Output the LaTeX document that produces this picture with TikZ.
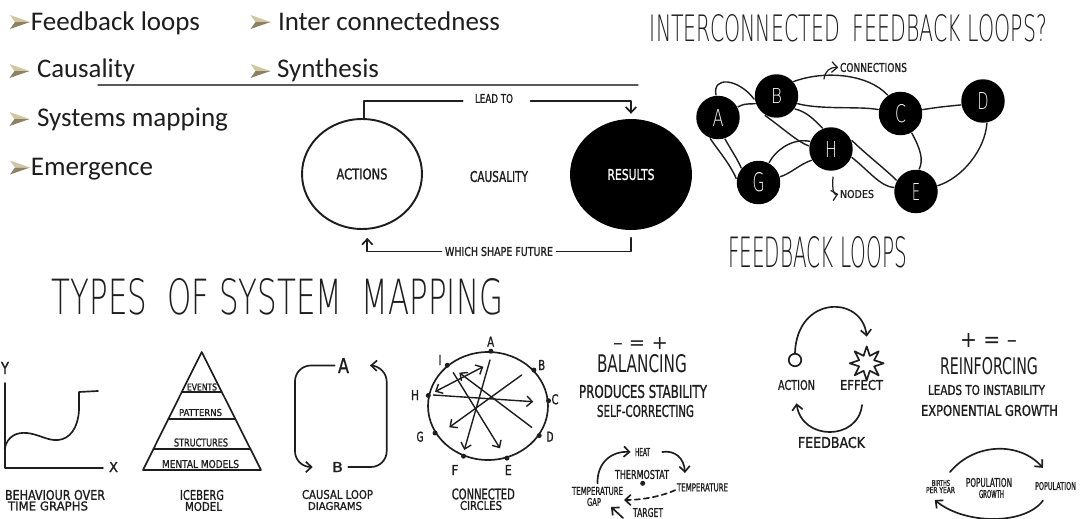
\documentclass[tikz,border=0pt]{standalone}
\usepackage{fontspec}
\setmainfont{DejaVu Sans}
\newfontfamily\bulf{Carlito}
\newfontfamily\handf{DejaVu Sans}[FakeBold=1.3]
\newfontfamily\medf{DejaVu Sans}
\newfontfamily\thinf{DejaVuSans-ExtraLight.ttf}
\usetikzlibrary{arrows.meta,shapes.geometric}
\newlength\pxu \setlength\pxu{0.02cm}
\newcommand\hw[3]{\resizebox{#1\pxu}{#2\pxu}{\handf #3}}
\newcommand\mw[3]{\resizebox{#1\pxu}{#2\pxu}{\medf #3}}
\newcommand\tw[3]{\resizebox{#1\pxu}{#2\pxu}{\thinf #3}}
\newcommand\bw[2]{\resizebox{#1\pxu}{!}{\bulf #2}}
\definecolor{bullight}{HTML}{CFC6A4}
\definecolor{bulldark}{HTML}{8C8160}
\definecolor{ink}{HTML}{1E1E1E}
\newcommand\bul[2]{%
  \fill[bullight] (#1-10,#2-7) -- (#1+10,#2) -- (#1-5,#2) -- cycle;
  \fill[bulldark] (#1-10,#2+7) -- (#1+10,#2) -- (#1-5,#2) -- cycle;}
\begin{document}
\begin{tikzpicture}[x=0.02cm,y=-0.02cm, line width=0.95pt, line cap=round, line join=round,
  color=ink,
  lbl/.style={inner sep=0pt, outer sep=0pt},
  arr/.style={-{Straight Barb[length=3.2pt,width=6pt]}},
  netnode/.style={circle, fill=black, minimum size=0.87cm, inner sep=0pt, text=white},
  edge/.style={line width=0.8pt},
  dot/.style={circle, fill=ink, minimum size=0.1cm, inner sep=0pt},
]
\fill[white] (0,0) rectangle (1080,518);
\useasboundingbox (0,0) rectangle (1080,518);

% ---------------- bullets ----------------
\bul{20}{22}
\node[lbl, anchor=base west] (b1) at (31,30) {\bw{169}{Feedback loops}};
\bul{260.5}{22}
\node[lbl, anchor=base west] (b2) at (278,30) {\bw{222}{Inter connectedness}};
\bul{19.5}{71}
\node[lbl, anchor=base west] (b3) at (37,77.5) {\bw{98}{Causality}};
\bul{260.5}{71}
\node[lbl, anchor=base west] (b4) at (277,77.5) {\bw{102}{Synthesis}};
\bul{19.5}{119}
\node[lbl, anchor=base west] (b5) at (37,126) {\bw{191}{Systems mapping}};
\bul{20}{167.5}
\node[lbl, anchor=base west] (b6) at (31,175.5) {\bw{122}{Emergence}};
\coordinate (sepL) at (98,85);
\coordinate (sepR) at (638,85);
\draw[black!65, line width=0.6pt] (sepL) -- (sepR);

% ---------------- causality ----------------
\node[ellipse, draw, line width=1.1pt, minimum width=2.4cm, minimum height=2.2cm, inner sep=0pt] (act) at (362,174) {\hw{51}{11}{ACTIONS}};
\node[ellipse, fill=black, minimum width=2.44cm, minimum height=2.22cm, inner sep=0pt, text=white] (res) at (631,174.5) {\hw{47}{11}{RESULTS}};
\node[lbl] (caus) at (499,176.5) {\hw{58}{11}{CAUSALITY}};
\node[lbl] (lead) at (494,98.5) {\hw{38}{9}{LEAD TO}};
\node[lbl] (wsf) at (499,251.5) {\hw{108}{9}{WHICH SHAPE FUTURE}};
\draw (act.88) |- ([xshift=-7pt,yshift=-1.5pt]lead.west);
\draw[arr] ([xshift=10pt,yshift=-1.5pt]lead.east) -| ([yshift=2.5pt]res.north);
\draw ([yshift=-4pt]res.south) |- ([xshift=2pt]wsf.east);
\draw[arr] ([xshift=-2pt]wsf.west) -| ([xshift=3pt,yshift=-4.5pt]act.south);

% ---------------- interconnected feedback loops ----------------
\node[lbl] (t1) at (848.5,28.5) {\tw{397}{27}{INTERCONNECTED\ \ FEEDBACK LOOPS?}};
\node[netnode] (nA) at (718,117.5) {\tw{11}{17}{A}};
\node[netnode] (nB) at (776.5,96) {\tw{11}{15}{B}};
\node[netnode] (nC) at (900.5,113.5) {\tw{11}{18}{C}};
\node[netnode] (nD) at (983,101) {\tw{11}{17}{D}};
\node[netnode] (nH) at (831,149) {\tw{12}{16}{H}};
\node[netnode] (nG) at (758.5,182.5) {\tw{12}{19}{G}};
\node[netnode] (nE) at (916,191.5) {\tw{8}{17}{E}};
\draw[edge] (nA.95) .. controls (712,76) and (738,78) .. (nB.188);
\draw[edge] (nA.28) .. controls (744,104) .. (nB.200);
\draw[edge] (nB.40) .. controls (825,70) and (868,74) .. (nC.125);
\draw[edge] (nB.-20) .. controls (822,110) and (860,106) .. (nC.170);
\draw[edge] (nC.10) .. controls (940,107) .. (nD.190);
\draw[edge] (nC.-60) .. controls (920,148) and (924,160) .. (nE.82);
\draw[edge] (nD.-80) .. controls (985,150) and (962,178) .. (nE.15);
\draw[edge] (nB.-120) .. controls (785,130) and (798,142) .. (nH.172);
\draw[edge] (nB.-35) .. controls (808,112) and (816,122) .. (nH.112);
\draw[edge] (nA.-110) .. controls (718,150) and (730,164) .. (nG.170);
\draw[edge] (nA.-72) .. controls (730,148) and (738,160) .. (nG.140);
\draw[edge] (nG.62) .. controls (776,150) and (792,138) .. (nH.160);
\draw[edge] (nG.15) .. controls (790,174) and (800,164) .. (nH.-150);
\draw[edge] (nH.22) .. controls (868,156) and (884,168) .. (nE.150);
\draw[edge] (nH.-22) .. controls (870,172) and (880,186) .. (nE.170);
\node[lbl] (conn) at (873.5,67.5) {\hw{67}{9}{CONNECTIONS}};
\coordinate (connS) at (824,79);
\draw[arr, line width=0.7pt] (connS) .. controls (825,71) and (830,67) .. ([xshift=-1pt]conn.west);
\node[lbl] (nodesl) at (857,194) {\hw{34}{8}{NODES}};
\coordinate (nodS) at (833,177);
\draw[arr, line width=0.7pt] (nodS) .. controls (832,192) and (834,195) .. ([xshift=-1pt]nodesl.west);
\node[lbl] (t2) at (817.5,252.5) {\tw{179}{31}{FEEDBACK LOOPS}};

% ---------------- types of system mapping ----------------
\node[lbl] (t3) at (277.5,297) {\tw{451}{36}{TYPES\ \ OF SYSTEM\ \ MAPPING}};

% behaviour over time
\node[lbl] (ylab) at (5,368) {\hw{8}{12}{Y}};
\node[lbl] (xlab) at (113.5,467) {\hw{9}{10}{X}};
\coordinate (ytop) at (4.7,383);
\coordinate (orig) at (4.7,468);
\coordinate (xend) at (103,468);
\draw (ytop) -- (orig) -- (xend);
\draw (4.7,449) .. controls (7,436) and (17,432) .. (27,433)
  .. controls (38,434) and (48,441) .. (58,440)
  .. controls (70,439) and (78,428) .. (79,410) -- (79,392) -- (98,391);
\node[lbl] (bog1) at (55,495) {\hw{100}{10}{BEHAVIOUR OVER}};
\node[lbl] (bog2) at (48,506) {\hw{80}{9}{TIME GRAPHS}};

% iceberg
\coordinate (ia) at (201.7,352);
\coordinate (ibl) at (143,470);
\coordinate (ibr) at (261,470);
\draw (ia) -- (ibr) -- (ibl) -- cycle;
\draw (181.8,392) -- (221.6,392);
\draw (168.4,419) -- (235,419);
\draw (153.4,449) -- (250,449);
\node[lbl] (ev) at (202,387) {\hw{30}{7}{EVENTS}};
\node[lbl] (pa) at (200.5,412.5) {\hw{43}{7}{PATTERNS}};
\node[lbl] (st) at (201,442.5) {\hw{54}{8}{STRUCTURES}};
\node[lbl] (mm) at (200.5,464) {\hw{77}{8}{MENTAL MODELS}};
\node[lbl] (ice1) at (202,495) {\hw{44}{10}{ICEBERG}};
\node[lbl] (ice2) at (203.5,506.5) {\hw{37}{9}{MODEL}};

% causal loop
\node[lbl] (cA) at (343.5,365.5) {\hw{11}{15}{A}};
\node[lbl] (cB) at (337.5,467) {\hw{11}{10}{B}};
\draw[arr, rounded corners=9pt] ([xshift=-2pt]cA.west) -| (295,467) -- ([xshift=-11pt]cB.west);
\draw[arr, rounded corners=9pt] ([xshift=3pt]cB.east) -| (386.7,366) -- ([xshift=12pt]cA.east);
\node[lbl] (cl1) at (337.5,494.5) {\hw{71}{9}{CAUSAL LOOP}};
\node[lbl] (cl2) at (335,506) {\hw{54}{8}{DIAGRAMS}};

% connected circles
\node[ellipse, draw, minimum width=2.4cm, minimum height=2.16cm, inner sep=0pt] (cc) at (488,406) {};
\node[dot] (pA) at (cc.87) {};
\node[dot] (pB) at (cc.38) {};
\node[dot] (pC) at (cc.5) {};
\node[dot] (pD) at (cc.-30) {};
\node[dot] (pE) at (cc.-70) {};
\node[dot] (pF) at (cc.-116) {};
\node[dot] (pG) at (cc.-153) {};
\node[dot] (pH) at (cc.170) {};
\node[dot] (pI) at (cc.135) {};
\node[lbl] (lA) at (490.7,341.7) {\hw{7}{10}{A}};
\node[lbl] (lB) at (541.7,365) {\hw{7}{10}{B}};
\node[lbl] (lC) at (555,399.3) {\hw{7}{10}{C}};
\node[lbl] (lD) at (550,436.7) {\hw{7}{10}{D}};
\node[lbl] (lE) at (508.3,470) {\hw{7}{10}{E}};
\node[lbl] (lF) at (455,470) {\hw{7}{10}{F}};
\node[lbl] (lG) at (420,436.7) {\hw{7}{10}{G}};
\node[lbl] (lH) at (415,395) {\hw{8}{10}{H}};
\node[lbl] (lI) at (440,360) {\hw{3}{10}{I}};
\coordinate (a1s) at (435,391.7); \coordinate (a1e) at (483.3,366.7);
\coordinate (a2s) at (490,360);   \coordinate (a2e) at (464.3,450);
\coordinate (a3s) at (453.3,372.7); \coordinate (a3e) at (500,448.3);
\coordinate (a4s) at (531.7,427.3); \coordinate (a4e) at (459.3,372.7);
\coordinate (a5s) at (521.7,375); \coordinate (a5e) at (449.3,427.3);
\coordinate (a6s) at (433.3,395); \coordinate (a6e) at (533.3,401.7);
\draw[line width=0.8pt, {Straight Barb[length=3.2pt,width=6pt]}-{Straight Barb[length=3.2pt,width=6pt]}] (a1s) -- (a1e);
\draw[arr, line width=0.8pt] (a2s) -- (a2e);
\draw[arr, line width=0.8pt] (a3s) -- (a3e);
\draw[arr, line width=0.8pt] (a4s) -- (a4e);
\draw[arr, line width=0.8pt] (a5s) -- (a5e);
\draw[arr, line width=0.8pt] (a6s) -- (a6e);
\node[lbl] (cc1) at (483.3,494) {\hw{63}{11}{CONNECTED}};
\node[lbl] (cc2) at (481,505.5) {\hw{42}{9}{CIRCLES}};

% ---------------- balancing ----------------
\node[lbl] (bal0) at (640.5,343) {\mw{55}{12}{– = +}};
\node[lbl] (bal1) at (642,364) {\mw{90}{18}{BALANCING}};
\node[lbl] (bal2) at (643,391.5) {\hw{128}{13}{PRODUCES STABILITY}};
\node[lbl] (bal3) at (645.5,411) {\hw{97}{12}{SELF-CORRECTING}};
\node[lbl] (heat) at (642.5,452) {\hw{15}{8}{HEAT}};
\node[lbl] (thermo) at (642,474.5) {\hw{54}{9}{THERMOSTAT}};
\node[dot] (tdot) at (642.7,483.3) {};
\node[lbl] (tr) at (702.5,487.5) {\hw{51}{8}{TEMPERATURE}};
\node[lbl] (tl1) at (597.5,491) {\hw{51}{8}{TEMPERATURE}};
\node[lbl] (tl2) at (594,502) {\hw{14}{8}{GAP}};
\node[lbl] (targ) at (648,512.5) {\hw{30}{9}{TARGET}};
\coordinate (tha) at (685,473);
\coordinate (tdash) at (624,500);
\coordinate (tbs) at (623,518);
\coordinate (tbe) at (611,507);
\draw[arr] ([yshift=2pt]tl1.north) .. controls (597,462) and (612,451) .. ([xshift=-2.5pt]heat.west);
\draw[arr] ([xshift=7pt]heat.east) .. controls (675,450) and (684,458) .. (tha);
\draw[arr, dash pattern=on 3pt off 2.2pt] ([xshift=-1pt,yshift=-1.5pt]tr.west) .. controls (660,497) and (640,500) .. (tdash);
\draw[arr] (tbs) .. controls (618,513) .. (tbe);

% ---------------- action / effect / feedback ----------------
\node[circle, draw, minimum size=0.25cm, inner sep=0pt] (actc) at (795,360) {};
\node[star, star points=8, star point ratio=2.1, draw, minimum size=0.68cm, inner sep=0pt] (star) at (866.7,363.3) {};
\node[lbl] (actl) at (796.5,385) {\hw{37}{10}{ACTION}};
\node[lbl] (effl) at (861.5,385) {\hw{43}{10}{EFFECT}};
\node[lbl] (fbl) at (831.5,442.5) {\hw{67}{11}{FEEDBACK}};
\draw[arr] (actc.north) .. controls (797,295) and (862,295) .. ([yshift=4pt]star.north);
\draw[arr] ([xshift=0.3pt,yshift=-8.5pt]effl.south) .. controls (858,441) and (802,441) .. ([yshift=-7.5pt]actl.south);

% ---------------- reinforcing ----------------
\node[lbl] (rf0) at (988.5,340.5) {\mw{57}{14}{+ = –}};
\node[lbl] (rf1) at (989,366.5) {\mw{98}{17}{REINFORCING}};
\node[lbl] (rf2) at (986.5,390) {\hw{117}{10}{LEADS TO INSTABILITY}};
\node[lbl] (rf3) at (989.5,410.5) {\hw{137}{11}{EXPONENTIAL GROWTH}};
\node[lbl] (pb1) at (941,483) {\hw{18}{6}{BIRTHS}};
\node[lbl] (pb2) at (940.5,490) {\hw{29}{6}{PER YEAR}};
\node[lbl] (pg1) at (989,482.5) {\hw{46}{9}{POPULATION}};
\node[lbl] (pg2) at (991.5,494) {\hw{25}{8}{GROWTH}};
\node[lbl] (pp) at (1055.5,486) {\hw{41}{8}{POPULATION}};
\draw[arr] ([yshift=4.5pt]pb1.north east) .. controls (975,442) and (1020,442) .. ([xshift=4.5pt,yshift=8pt]pp.north west);
\draw[arr] ([xshift=4.5pt,yshift=-6pt]pp.south west) .. controls (1025,525) and (965,525) .. ([xshift=5pt,yshift=-4pt]pb2.south west);
\end{tikzpicture}
\end{document}
